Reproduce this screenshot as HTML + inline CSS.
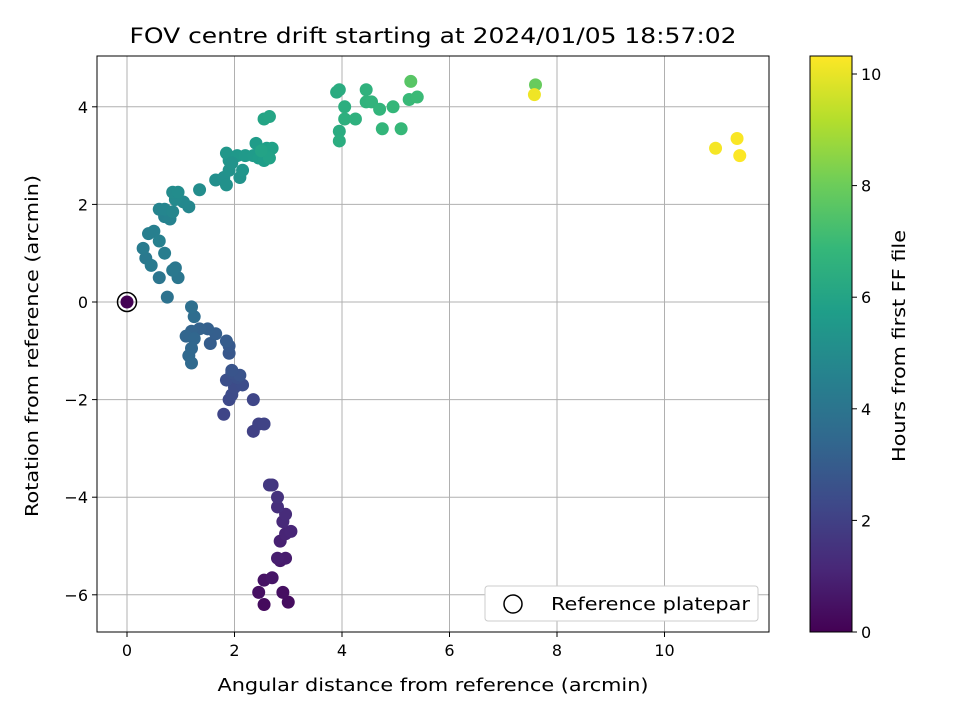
<!DOCTYPE html>
<html><head><meta charset="utf-8"><style>
body{margin:0;background:#fff;font-family:"Liberation Sans","DejaVu Sans",sans-serif}
svg text{font-family:"DejaVu Sans","Liberation Sans",sans-serif}
</style></head><body>
<svg id="chart" width="960" height="720" viewBox="0 0 960 720">
<defs><linearGradient id="vg" x1="0" y1="1" x2="0" y2="0"></linearGradient></defs>
<g id="grid"></g>
<g id="pts"></g>
<rect x="97" y="56" width="672" height="576" fill="none" stroke="#000" stroke-width="1"/>
<g id="axes"></g>
<text x="433" y="43" font-size="21" text-anchor="middle" textLength="607" lengthAdjust="spacingAndGlyphs">FOV centre drift starting at 2024/01/05 18:57:02</text>
<text x="433" y="691" font-size="18" text-anchor="middle" textLength="431" lengthAdjust="spacingAndGlyphs">Angular distance from reference (arcmin)</text>
<text transform="translate(38,346) rotate(-90)" font-size="18" text-anchor="middle" textLength="342" lengthAdjust="spacingAndGlyphs">Rotation from reference (arcmin)</text>
<g>
<rect x="485" y="586" width="273" height="35" fill="#fff" stroke="#ccc" rx="3"/>
<circle cx="513" cy="604" r="9" fill="none" stroke="#000" stroke-width="1.5"/>
<text x="551" y="610" font-size="18" textLength="199" lengthAdjust="spacingAndGlyphs">Reference platepar</text>
</g>
<rect x="810" y="56" width="42" height="576" fill="url(#vg)" stroke="#000"/>
<g id="cbt"></g>
<text transform="translate(905,346) rotate(-90)" font-size="18" text-anchor="middle" textLength="232" lengthAdjust="spacingAndGlyphs">Hours from first FF file</text>
</svg>
<script>
const xs=[2.55,3.0,2.9,2.45,2.55,2.7,2.85,2.95,2.8,2.85,2.95,3.05,2.9,2.95,2.8,2.8,2.7,2.65,
2.35,2.45,2.55,1.8,2.35,1.9,1.95,2.0,2.15,1.85,2.05,1.95,2.1,1.95,1.9,1.9,1.85,1.55,1.65,1.5,1.35,1.2,1.1,1.25,1.2,1.15,1.2,1.25,1.2,
0.75,0.6,0.95,0.9,0.85,0.35,0.45,0.3,0.7,0.4,0.5,0.6,0.7,0.8,0.6,0.7,0.85,1.15,1.05,0.9,0.85,0.95,1.35,1.65,1.8,1.85,
1.9,2.1,2.15,1.9,1.85,2.05,2.2,2.35,2.4,2.45,2.55,2.6,2.7,2.65,2.5,2.55,2.65,1.95,
3.9,3.95,3.95,3.95,4.05,4.05,4.25,4.45,4.45,4.55,4.7,4.75,4.95,5.1,5.25,5.4,5.28,
7.6,7.58,10.95,11.35,11.4];
const ys=[-6.2,-6.15,-5.95,-5.95,-5.7,-5.65,-5.3,-5.25,-5.25,-4.9,-4.75,-4.7,-4.5,-4.35,-4.2,-4.0,-3.75,-3.75,
-2.65,-2.5,-2.5,-2.3,-2.0,-2.0,-1.9,-1.75,-1.7,-1.6,-1.55,-1.45,-1.5,-1.4,-1.05,-0.9,-0.8,-0.85,-0.65,-0.55,-0.55,-0.6,-0.7,-0.75,-0.95,-1.1,-1.25,-0.3,-0.1,
0.1,0.5,0.5,0.7,0.65,0.9,0.75,1.1,1.0,1.4,1.45,1.25,1.75,1.7,1.9,1.9,1.85,1.95,2.05,2.1,2.25,2.25,2.3,2.5,2.55,2.4,
2.7,2.55,2.7,2.9,3.05,3.0,3.0,3.0,3.25,2.95,2.9,3.15,3.15,2.95,3.1,3.75,3.8,2.85,
4.3,4.35,3.5,3.3,4.0,3.75,3.75,4.35,4.1,4.1,3.95,3.55,4.0,3.55,4.15,4.2,4.52,
4.45,4.25,3.15,3.35,3.0];
const hs=[0.3,0.35,0.4,0.45,0.5,0.6,0.7,0.8,0.85,0.95,1.05,1.1,1.2,1.3,1.4,1.5,1.6,1.7,
2.0,2.05,2.1,2.15,2.2,2.3,2.35,2.4,2.45,2.5,2.55,2.6,2.65,2.7,2.8,2.9,3.0,3.05,3.1,3.15,3.2,3.3,3.35,3.4,3.45,3.5,3.55,3.65,3.75,
3.9,4.0,4.05,4.1,4.15,4.2,4.25,4.3,4.35,4.4,4.45,4.5,4.55,4.6,4.65,4.7,4.75,4.8,4.85,4.9,4.95,5.0,5.05,5.1,5.15,5.2,
5.25,5.3,5.35,5.4,5.45,5.5,5.55,5.6,5.65,5.7,5.75,5.8,5.85,5.9,5.95,6.0,6.05,5.3,
6.3,6.35,6.35,6.4,6.45,6.5,6.55,6.6,6.65,6.7,6.75,6.8,6.85,6.9,6.95,7.0,7.6,
7.9,10.1,10.2,10.25,10.3];
const xTicks=[0,2,4,6,8,10];
const yTicks=[-6,-4,-2,0,2,4];
const cTicks=[0,2,4,6,8,10];
const X=v=>127+v*53.75, Y=v=>302-v*48.8, C=v=>632-v*55.8, HMAX=10.32;
const vir=[[68,1,84],[72,40,120],[62,73,137],[49,104,142],[38,130,142],[31,158,137],[53,183,121],[109,205,89],[180,222,44],[253,231,37]];
function col(t){t=Math.max(0,Math.min(1,t))*9;const i=Math.min(8,Math.floor(t)),f=t-i,a=vir[i],b=vir[i+1];
return `rgb(${a.map((v,k)=>Math.round(v+(b[k]-v)*f)).join(',')})`;}
const NS="http://www.w3.org/2000/svg";
function mk(p,t,at){const e=document.createElementNS(NS,t);for(const k in at)e.setAttribute(k,at[k]);p.appendChild(e);return e;}
const g=document.getElementById('grid'),ax=document.getElementById('axes'),P=document.getElementById('pts'),cb=document.getElementById('cbt');
const vg=document.getElementById('vg');
vir.forEach((c,i)=>{const s=mk(vg,'stop',{offset:(i/9*100)+'%','stop-color':`rgb(${c})`});});
xTicks.forEach(v=>{const x=X(v);
const l=mk(g,'line',{x1:x,x2:x,y1:56,y2:632,stroke:'#b0b0b0','stroke-width':1});

const t=mk(ax,'line',{x1:x,x2:x,y1:632,y2:637,stroke:'#000'});

const tx=mk(ax,'text',{x:x,y:656,'font-size':16,'text-anchor':'middle'});tx.textContent=v;
});
yTicks.forEach(v=>{const y=Y(v);
const l=mk(g,'line',{x1:97,x2:769,y1:y,y2:y,stroke:'#b0b0b0','stroke-width':1});

const t=mk(ax,'line',{x1:92,x2:97,y1:y,y2:y,stroke:'#000'});

const tx=mk(ax,'text',{x:88,y:y+6,'font-size':16,'text-anchor':'end'});tx.textContent=v<0?'\u2212'+(-v):v;
});
xs.forEach((v,i)=>{const c=mk(P,'circle',{cx:X(v),cy:Y(ys[i]),r:6.5,fill:col(hs[i]/HMAX)});
});
const r0=mk(P,'circle',{cx:X(0),cy:Y(0),r:6.5,fill:col(0)});

const r1=mk(P,'circle',{cx:X(0),cy:Y(0),r:9.5,fill:'none',stroke:'#000','stroke-width':1.5});

cTicks.forEach(v=>{const y=C(v);
const t=mk(cb,'line',{x1:852,x2:857,y1:y,y2:y,stroke:'#000'});

const tx=mk(cb,'text',{x:861,y:y+6,'font-size':16});tx.textContent=v;
});
</script>
</body></html>
